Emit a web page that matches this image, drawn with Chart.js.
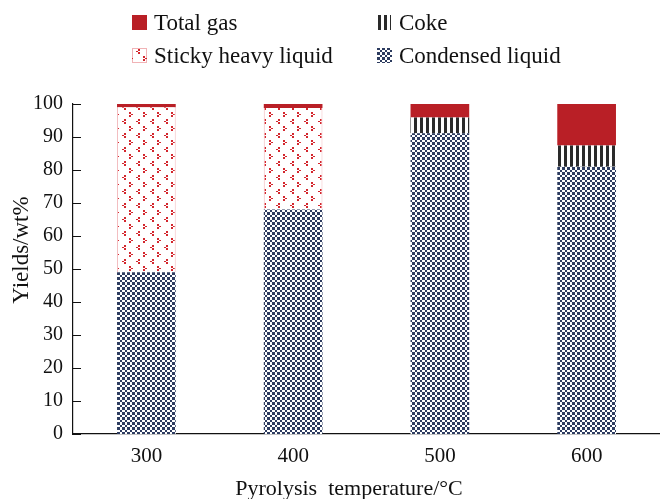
<!DOCTYPE html>
<html>
<head>
<meta charset="utf-8">
<script src="https://cdn.jsdelivr.net/npm/chart.js@4"></script>
<style>
  html, body { margin: 0; padding: 0; background: #fff; }
  #wrap { width: 660px; height: 499px; position: relative; }
</style>
</head>
<body>
<div id="wrap"><canvas id="c" width="660" height="499"></canvas></div>
<script>
// Product yields (wt%) at each pyrolysis temperature
const temperatures = ['300', '400', '500', '600'];
const condensedLiquid = [49.0, 68.0, 91.1, 81.0];
const stickyHeavyLiquid = [50.0, 30.8, 0, 0];
const coke = [0, 0, 4.8, 6.4];
const totalGas = [1.0, 1.2, 4.1, 12.6];
const yTicks = [0, 10, 20, 30, 40, 50, 60, 70, 80, 90, 100];

const SERIF = '"Liberation Serif", "Times New Roman", Times, serif';
const TEXT = '#111';

function makeTile(w, h, paint) {
  const t = document.createElement('canvas');
  t.width = w; t.height = h;
  const g = t.getContext('2d');
  g.fillStyle = '#fff';
  g.fillRect(0, 0, w, h);
  paint(g);
  return t;
}

// Fill patterns for each product
const checkerTile = makeTile(10, 10, g => {
  // alternating 2px / 3px cells keep edges crisp with a 2.5px average cell
  const edges = [0, 2, 5, 7, 10];
  g.fillStyle = '#2d3c60';
  for (let i = 0; i < 4; i++) {
    for (let j = 0; j < 4; j++) {
      if ((i + j) % 2 === 0) {
        g.fillRect(edges[i], edges[j], edges[i + 1] - edges[i], edges[j + 1] - edges[j]);
      }
    }
  }
});
const stripeTile = makeTile(6, 6, g => {
  g.fillStyle = '#2a2a2a';
  g.fillRect(0, 0, 3, 6);
});
const stickyTile = makeTile(14, 14, g => {
  g.fillStyle = '#d3262d';
  // ">" mark
  g.fillRect(3, 0, 2, 2);
  g.fillRect(5, 2, 2, 1);
  g.fillRect(3, 3, 2, 2);
  // "<" mark
  g.fillRect(12, 7, 2, 2);
  g.fillRect(10, 9, 2, 1);
  g.fillRect(12, 10, 2, 2);
});
const GAS = '#b91f26';

const ctx = document.getElementById('c').getContext('2d');
const checker = ctx.createPattern(checkerTile, 'repeat');
const stripes = ctx.createPattern(stripeTile, 'repeat');
const sticky = ctx.createPattern(stickyTile, 'repeat');

const legendItems = [
  { label: 'Total gas', x: 132, y: 15, w: 15, fill: GAS, edge: null },
  { label: 'Coke', x: 377, y: 15, w: 14, fill: stripes, edge: null },
  { label: 'Sticky heavy liquid', x: 132, y: 48, w: 15, fill: sticky, edge: 'rgba(214,38,45,0.35)' },
  { label: 'Condensed liquid', x: 377, y: 48, w: 15, fill: checker, edge: null }
];

const decorations = {
  id: 'decorations',
  afterDraw(chart) {
    const c = chart.ctx;
    const ys = chart.scales.y;
    const area = chart.chartArea;
    c.save();
    // inward tick marks on the value axis
    c.strokeStyle = '#111';
    c.lineWidth = 1;
    yTicks.forEach(v => {
      const py = Math.round(ys.getPixelForValue(v)) + 0.5;
      c.beginPath();
      c.moveTo(area.left, py);
      c.lineTo(area.left + 8, py);
      c.stroke();
    });
    // axis titles
    c.fillStyle = TEXT;
    c.font = '22px ' + SERIF;
    c.textAlign = 'center';
    c.textBaseline = 'alphabetic';
    c.fillText('Pyrolysis  temperature/\u00B0C', 349, 495);
    c.save();
    c.translate(22, 250);
    c.rotate(-Math.PI / 2);
    c.font = '23px ' + SERIF;
    c.textBaseline = 'middle';
    c.fillText('Yields/wt%', 0, 0);
    c.restore();
    // legend
    c.font = '23px ' + SERIF;
    c.textAlign = 'left';
    c.textBaseline = 'alphabetic';
    legendItems.forEach(it => {
      c.fillStyle = it.fill;
      c.fillRect(it.x, it.y, it.w, 15);
      if (it.edge) {
        c.strokeStyle = it.edge;
        c.lineWidth = 1;
        c.strokeRect(it.x + 0.5, it.y + 0.5, it.w - 1, 14);
      }
      c.fillStyle = TEXT;
      c.fillText(it.label, it.x + 22, it.y + 15);
    });
    c.restore();
  }
};

new Chart(ctx, {
  type: 'bar',
  data: {
    labels: temperatures,
    datasets: [
      { label: 'Condensed liquid', data: condensedLiquid, backgroundColor: checker, borderWidth: 0 },
      { label: 'Sticky heavy liquid', data: stickyHeavyLiquid, backgroundColor: sticky,
        borderColor: 'rgba(214,38,45,0.3)', borderWidth: { left: 1, right: 1, top: 0, bottom: 0 } },
      { label: 'Coke', data: coke, backgroundColor: stripes, borderWidth: 0 },
      { label: 'Total gas', data: totalGas, backgroundColor: GAS, borderWidth: 0 }
    ]
  },
  options: {
    responsive: false,
    animation: false,
    layout: { padding: { top: 104, left: 0, right: 0, bottom: 0 } },
    plugins: { legend: { display: false }, tooltip: { enabled: false } },
    datasets: { bar: { categoryPercentage: 1, barPercentage: 0.4 } },
    scales: {
      x: {
        stacked: true,
        grid: { display: false, drawTicks: false },
        border: { display: true, color: '#111', width: 1.2 },
        ticks: { color: TEXT, font: { family: SERIF, size: 21 }, padding: 10, maxRotation: 0 },
        afterFit(s) { s.height = 65; }
      },
      y: {
        stacked: true,
        min: 0,
        max: 100,
        afterBuildTicks(s) { s.ticks = yTicks.map(v => ({ value: v })); },
        grid: { display: false, drawTicks: false },
        border: { display: true, color: '#111', width: 1.2 },
        ticks: { color: TEXT, font: { family: SERIF, size: 20 }, padding: 10 },
        afterFit(s) { s.width = 73; }
      }
    }
  },
  plugins: [decorations]
});
</script>
</body>
</html>
